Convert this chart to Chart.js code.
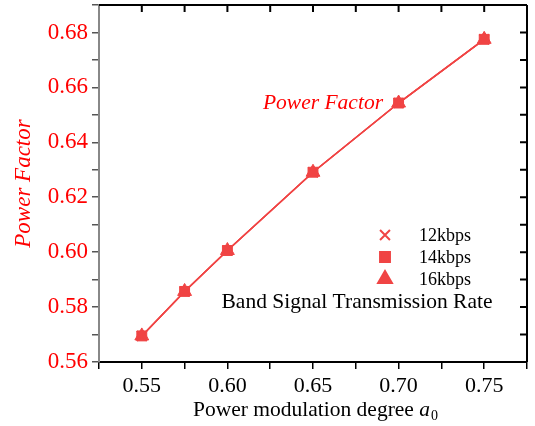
<!DOCTYPE html>
<html>
<head>
<meta charset="utf-8">
<script src="https://cdn.jsdelivr.net/npm/chart.js@4"></script>
<style>
  body { margin: 0; background: #fff; }
  canvas { display: block; }
</style>
</head>
<body>
<canvas id="myChart" width="535" height="426"></canvas>
<script>
// power modulation degree a0 on x, power factor on y
const degrees = [0.55, 0.575, 0.60, 0.65, 0.70, 0.75]
const rate12 = [0.5695, 0.5857, 0.6006, 0.6291, 0.6543, 0.6775]
const rate14 = [0.5695, 0.5857, 0.6006, 0.6291, 0.6543, 0.6775]
const rate16 = [0.5695, 0.5857, 0.6006, 0.6291, 0.6543, 0.6775]
const rateLabels = ['12kbps', '14kbps', '16kbps']
const rateStyles = ['crossRot', 'rect', 'triangle']
const rateRadius = [7, 7, 8]
const xTickLabels = ['0.55', '0.60', '0.65', '0.70', '0.75']
const yTickLabels = ['0.56', '0.58', '0.60', '0.62', '0.64', '0.66', '0.68']

const red = '#ff0000'
const markRed = '#f04444'
const serif = '"Liberation Serif", "Times New Roman", serif'

const toPoints = ys => degrees.map((x, i) => ({ x, y: ys[i] }))

const datasets = [rate12, rate14, rate16].map((ys, i) => ({
  label: rateLabels[i],
  data: toPoints(ys),
  showLine: true,
  borderColor: markRed,
  backgroundColor: markRed,
  borderWidth: 1.5,
  pointStyle: rateStyles[i],
  pointRadius: rateRadius[i],
  pointBorderWidth: i === 0 ? 1.5 : 1,
  pointBorderColor: markRed,
  pointBackgroundColor: markRed
}))

// top/right frame with inward ticks, legend block, notes and x title
const extras = {
  id: 'extras',
  afterDraw(chart) {
    const { ctx, chartArea: a, scales } = chart
    ctx.save()
    ctx.strokeStyle = '#000'
    ctx.lineWidth = 2
    ctx.beginPath()
    ctx.moveTo(a.left, a.top)
    ctx.lineTo(a.right, a.top)
    ctx.moveTo(a.right, a.top)
    ctx.lineTo(a.right, a.bottom)
    scales.x.ticks.forEach(t => {
      const px = scales.x.getPixelForValue(t.value)
      if (px <= a.left + 1 || px >= a.right - 1) return
      ctx.moveTo(px, a.top)
      ctx.lineTo(px, a.top + 7)
    })
    scales.y.ticks.forEach(t => {
      const py = scales.y.getPixelForValue(t.value)
      if (py <= a.top + 1 || py >= a.bottom - 1) return
      ctx.moveTo(a.right, py)
      ctx.lineTo(a.right - 7, py)
    })
    ctx.stroke()

    // legend
    chart.data.datasets.forEach((ds, i) => {
      const y = 235 + i * 22
      ctx.fillStyle = markRed
      ctx.strokeStyle = markRed
      Chart.helpers.drawPoint(ctx, {
        pointStyle: ds.pointStyle, radius: ds.pointRadius, rotation: 0,
        borderWidth: ds.pointBorderWidth
      }, 385, y)
      ctx.fillStyle = '#000'
      ctx.font = '18px ' + serif
      ctx.textBaseline = 'middle'
      ctx.textAlign = 'left'
      ctx.fillText(ds.label, 419, y + 1)
    })
    ctx.font = '21.5px ' + serif
    ctx.textAlign = 'center'
    ctx.fillText('Band Signal Transmission Rate', 357, 302)

    // curve note
    ctx.fillStyle = red
    ctx.font = 'italic 21.5px ' + serif
    ctx.textAlign = 'right'
    ctx.fillText('Power Factor', 383, 103)

    // x title with subscript
    ctx.fillStyle = '#000'
    ctx.textAlign = 'left'
    ctx.textBaseline = 'alphabetic'
    const main = 'Power modulation degree '
    ctx.font = '21.5px ' + serif
    const w1 = ctx.measureText(main).width
    ctx.font = 'italic 21.5px ' + serif
    const w2 = ctx.measureText('a').width
    ctx.font = '14px ' + serif
    const w3 = ctx.measureText('0').width
    let x0 = 315 - (w1 + w2 + w3) / 2
    const base = 416
    ctx.font = '21.5px ' + serif
    ctx.fillText(main, x0, base)
    ctx.font = 'italic 21.5px ' + serif
    ctx.fillText('a', x0 + w1, base)
    ctx.font = '14px ' + serif
    ctx.fillText('0', x0 + w1 + w2 + 1, base + 4)
    ctx.restore()
  }
}

const ctx = document.getElementById('myChart')

new Chart(ctx, {
  type: 'scatter',
  data: { datasets },
  options: {
    responsive: false,
    animation: false,
    layout: { autoPadding: false, padding: { left: 0, top: 5, right: 8, bottom: 0 } },
    plugins: { legend: { display: false }, tooltip: { enabled: false } },
    scales: {
      x: {
        min: 0.525,
        max: 0.775,
        afterFit: s => { s.height = 64; s.paddingLeft = 0; s.paddingRight = 0 },
        border: { color: '#000', width: 2 },
        grid: { drawOnChartArea: false, tickLength: 7, color: '#000', lineWidth: 1.5 },
        ticks: {
          stepSize: 0.025,
          autoSkip: false,
          maxRotation: 0,
          padding: 4,
          color: '#000',
          font: { family: serif, size: 22 },
          callback: v => xTickLabels.find(l => Math.abs(+l - v) < 1e-6) || ''
        }
      },
      y: {
        min: 0.56,
        max: 0.69,
        afterFit: s => { s.width = 99; s.paddingTop = 0; s.paddingBottom = 0 },
        border: { color: '#888', width: 2 },
        grid: { drawOnChartArea: false, tickLength: 7, color: '#555', lineWidth: 1.5 },
        title: {
          display: true,
          text: 'Power Factor',
          color: red,
          font: { family: serif, size: 23, style: 'italic' },
          padding: { top: 10, bottom: 0 }
        },
        ticks: {
          stepSize: 0.01,
          autoSkip: false,
          padding: 4,
          color: red,
          font: { family: serif, size: 23 },
          callback: v => yTickLabels.find(l => Math.abs(+l - v) < 1e-6) || ''
        }
      }
    }
  },
  plugins: [extras]
})
</script>
</body>
</html>
